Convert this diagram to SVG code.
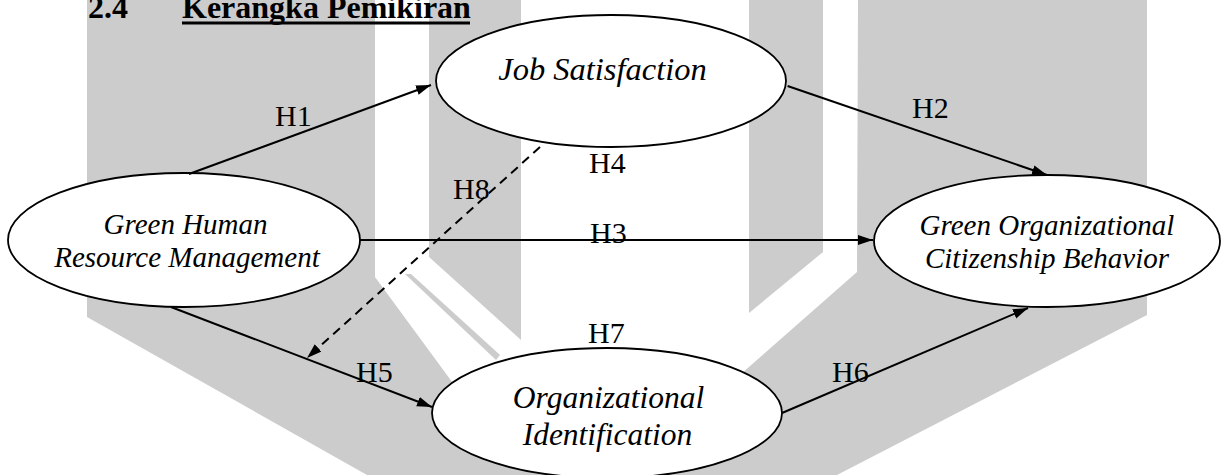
<svg xmlns="http://www.w3.org/2000/svg" width="1223" height="475" viewBox="0 0 1223 475">
<style>
.wm{fill:#cccccc;stroke:none}
.node ellipse{fill:#ffffff;stroke:#000000;stroke-width:1.8}
.nt{font-family:"Liberation Serif","Times New Roman",serif;font-style:italic;font-size:29px;fill:#000;text-anchor:middle}
.nt.big{font-size:32.5px}
.nt.mid{font-size:31.5px}
.lbl{font-family:"Liberation Serif","Times New Roman",serif;font-size:30px;fill:#000}
.title{font-family:"Liberation Serif","Times New Roman",serif;font-weight:bold;font-size:32px;fill:#000}
.edge{stroke:#000;stroke-width:2;fill:none;marker-end:url(#ah)}
.dash{stroke-dasharray:9 6}
</style>
<defs>
<marker id="ah" markerUnits="userSpaceOnUse" markerWidth="16" markerHeight="12" refX="15" refY="5" orient="auto">
<path d="M0,0 L15,5 L0,10 Z" fill="#000"/>
</marker>
</defs>
<rect width="1223" height="475" fill="#ffffff"/>
<g id="watermark">
<polygon class="wm" points="87,0 375,0 375,277 480,420 607,482 700,410 857,272 858,0 1147,0 1147,315 837,475 367,475 87,317"/>
<polygon class="wm" points="429,0 521,0 521,340 429,257"/>
<polygon class="wm" points="749,0 823,0 823,252 749,313"/>
<polygon class="wm" points="405,274 411,274 500,355 496,360"/>
</g>
<g id="title">
<text class="title" x="88" y="18">2.4</text>
<text class="title" x="182" y="18">Kerangka Pemikiran</text>
<line x1="182" y1="23" x2="470" y2="23" stroke="#000" stroke-width="3"/>
</g>
<g id="node-ghrm" class="node">
<ellipse cx="184" cy="240" rx="176" ry="67"/>
<text class="nt" x="185.5" y="234">Green Human</text>
<text class="nt" x="187" y="267">Resource Management</text>
</g>
<g id="node-js" class="node">
<ellipse cx="611" cy="81" rx="175" ry="66"/>
<text class="nt big" x="602.5" y="80">Job Satisfaction</text>
</g>
<g id="node-gocb" class="node">
<ellipse cx="1047" cy="241" rx="173" ry="66"/>
<text class="nt" x="1047" y="235">Green Organizational</text>
<text class="nt" x="1047" y="268">Citizenship Behavior</text>
</g>
<g id="node-oi" class="node">
<ellipse cx="607" cy="413" rx="175" ry="65"/>
<text class="nt mid" x="608.5" y="408">Organizational</text>
<text class="nt mid" x="607.5" y="445">Identification</text>
</g>
<g id="connectors">
<line class="edge" x1="189" y1="174" x2="431" y2="85"/>
<line class="edge" x1="787.6" y1="86" x2="1047" y2="175"/>
<line class="edge" x1="360" y1="240" x2="873" y2="240"/>
<line class="edge" x1="171" y1="307" x2="432" y2="407"/>
<line class="edge" x1="782" y1="413" x2="1028" y2="308"/>
<line class="edge dash" x1="540" y1="147" x2="307" y2="358"/>
<text class="lbl" x="275" y="126">H1</text>
<text class="lbl" x="912" y="118">H2</text>
<text class="lbl" x="590" y="243">H3</text>
<text class="lbl" x="589" y="173">H4</text>
<text class="lbl" x="356" y="382">H5</text>
<text class="lbl" x="832" y="382">H6</text>
<text class="lbl" x="588" y="343">H7</text>
<text class="lbl" x="453" y="199">H8</text>
</g>
</svg>
